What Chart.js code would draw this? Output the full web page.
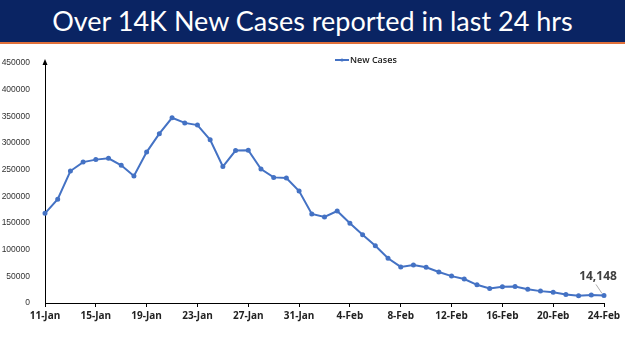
<!DOCTYPE html>
<html>
<head>
<meta charset="utf-8">
<script src="https://cdn.jsdelivr.net/npm/chart.js@4.4.0/dist/chart.umd.min.js"></script>
<style>
  body { margin: 0; width: 625px; height: 351px; background: #fff; overflow: hidden; }
  #banner {
    height: 42px; background: #0a2463; border-bottom: 2px solid #e0703a;
    color: #fff; font-family: Lato, "Open Sans", sans-serif; font-size: 27px;
    text-align: center; line-height: 42px;
  }
  #wrap { position: relative; width: 625px; height: 307px; }
</style>
</head>
<body>
<div id="banner">Over 14K New Cases reported in last 24 hrs</div>
<div id="wrap"><canvas id="myChart" width="625" height="307"></canvas></div>
<script>
// daily new cases, 11-Jan to 24-Feb
var dates = ["11-Jan","12-Jan","13-Jan","14-Jan","15-Jan","16-Jan","17-Jan","18-Jan","19-Jan","20-Jan",
  "21-Jan","22-Jan","23-Jan","24-Jan","25-Jan","26-Jan","27-Jan","28-Jan","29-Jan","30-Jan","31-Jan",
  "1-Feb","2-Feb","3-Feb","4-Feb","5-Feb","6-Feb","7-Feb","8-Feb","9-Feb","10-Feb","11-Feb","12-Feb",
  "13-Feb","14-Feb","15-Feb","16-Feb","17-Feb","18-Feb","19-Feb","20-Feb","21-Feb","22-Feb","23-Feb","24-Feb"];
var newCases = [168063,194720,247417,264202,268833,271202,258089,238018,282970,317532,
  347254,337704,333533,306064,255874,285914,286384,251209,235532,234281,209918,
  167059,161386,172433,149394,127952,107474,83876,67597,71365,67084,58077,50407,
  44877,34113,27409,30615,30757,25920,22270,19968,16051,13405,15102,14148];
var seriesName = "New Cases";
var lineColor = "#4472c4";

// y axis arrow, legend and the last-value callout
var extras = {
  id: "extras",
  afterDraw: function(chart) {
    var ctx = chart.ctx;
    var area = chart.chartArea;
    ctx.save();
    // arrow head on y axis
    ctx.fillStyle = "#000";
    ctx.beginPath();
    ctx.moveTo(area.left, area.top - 4);
    ctx.lineTo(area.left - 2.5, area.top + 2);
    ctx.lineTo(area.left + 2.5, area.top + 2);
    ctx.closePath();
    ctx.fill();

    // legend
    ctx.strokeStyle = lineColor;
    ctx.lineWidth = 2;
    ctx.beginPath();
    ctx.moveTo(335, 16);
    ctx.lineTo(349, 16);
    ctx.stroke();
    ctx.fillStyle = lineColor;
    ctx.beginPath();
    ctx.arc(342, 16, 1.6, 0, Math.PI * 2);
    ctx.fill();
    ctx.fillStyle = "#222";
    ctx.font = "600 9px 'Open Sans', sans-serif";
    ctx.textBaseline = "middle";
    ctx.textAlign = "left";
    ctx.fillText(seriesName, 350, 16);

    // last value label
    var pts = chart.getDatasetMeta(0).data;
    var last = pts[pts.length - 1];
    var v = newCases[newCases.length - 1];
    ctx.strokeStyle = "#999";
    ctx.lineWidth = 0.8;
    ctx.beginPath();
    ctx.moveTo(last.x - 2, last.y - 2);
    ctx.lineTo(last.x - 8, last.y - 11);
    ctx.stroke();
    ctx.fillStyle = "#404040";
    ctx.font = "bold 12px 'Open Sans', sans-serif";
    ctx.textAlign = "center";
    ctx.fillText(v.toLocaleString("en-US"), last.x - 6, last.y - 19);
    ctx.restore();
  }
};

new Chart("myChart", {
  type: "line",
  data: {
    labels: dates,
    datasets: [{
      label: seriesName,
      data: newCases,
      borderColor: lineColor,
      backgroundColor: lineColor,
      borderWidth: 2,
      pointRadius: 1.5,
      pointHoverRadius: 2,
      tension: 0
    }]
  },
  options: {
    responsive: false,
    animation: false,
    layout: { padding: { top: 19, right: 21, left: 0, bottom: 0 } },
    plugins: {
      legend: { display: false },
      tooltip: { enabled: false }
    },
    scales: {
      x: {
        offset: false,
        afterFit: function(s) { s.height = 48; },
        border: { color: "#000", width: 1 },
        grid: { drawOnChartArea: false, color: "#000", tickLength: 4 },
        ticks: {
          autoSkip: false,
          maxRotation: 0,
          padding: 3,
          color: "#222",
          font: { family: "'Open Sans', sans-serif", size: 10, weight: "bold" },
          callback: function(val, i) { return i % 4 === 0 ? dates[i] : null; }
        }
      },
      y: {
        min: 0,
        max: 450000,
        afterFit: function(s) { s.width = 45; },
        border: { color: "#000", width: 1 },
        grid: { display: false },
        ticks: {
          stepSize: 50000,
          padding: 7,
          color: "#333",
          font: { family: "'Liberation Sans', sans-serif", size: 8.5 },
          callback: function(val) { return String(val); }
        }
      }
    }
  },
  plugins: [extras]
});
</script>
</body>
</html>
